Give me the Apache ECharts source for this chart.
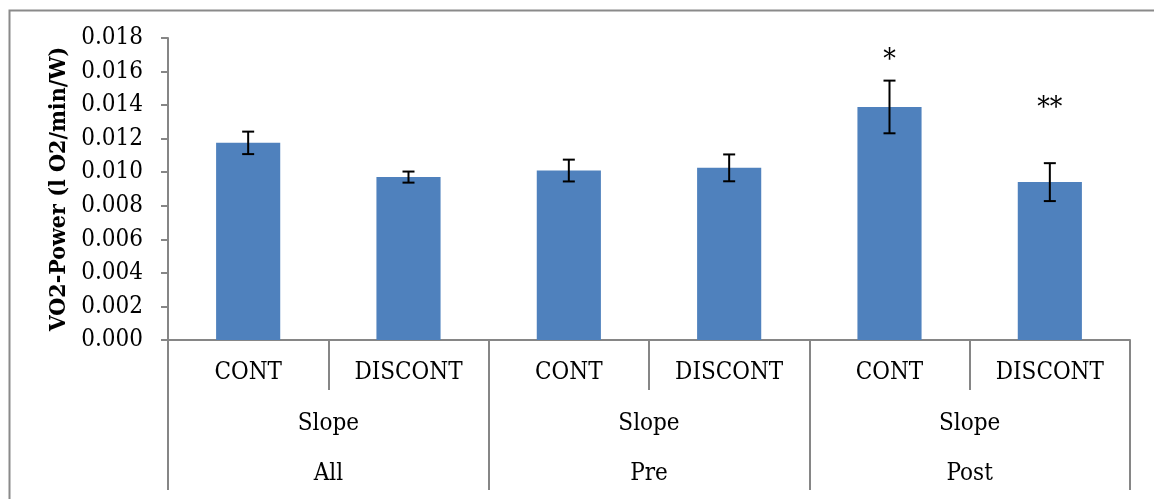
<!DOCTYPE html>
<html>
<head>
<meta charset="utf-8">
<script src="https://cdn.jsdelivr.net/npm/echarts@6/dist/echarts.min.js"></script>
<style>html,body{margin:0;padding:0;background:#fff}#c{width:1154px;height:499px}</style>
</head>
<body>
<div id="c"></div>
<script>
const conditions = ['CONT', 'DISCONT', 'CONT', 'DISCONT', 'CONT', 'DISCONT'];
const measures = ['Slope', 'Slope', 'Slope'];
const phases = ['All', 'Pre', 'Post'];
const values = [0.01175, 0.00971, 0.01010, 0.01026, 0.01389, 0.00941];
const errors = [0.00067, 0.00033, 0.00065, 0.00080, 0.00157, 0.00113];
const annotations = ['', '', '', '', '*', '**'];
const yTicks = { min: 0, max: 0.018, interval: 0.002 };

const annotationGap = [0, 0, 0, 0, 20, 54];
const FONT = '"DejaVu Serif Condensed", "DejaVu Serif", serif';
const AX = '#868686';

const chart = echarts.init(document.getElementById('c'), null, { renderer: 'canvas' });
chart.setOption({
  animation: false,
  backgroundColor: '#fff',
  graphic: [{
    type: 'rect', left: 7, top: 8, shape: { x: 0, y: 0, width: 1300, height: 700 },
    style: { fill: 'none', stroke: '#8a8a8a', lineWidth: 2 }, silent: true, z: -10
  }],
  grid: { left: 168, right: 24, top: 38, bottom: 159, containLabel: false },
  xAxis: [
    {
      type: 'category', data: conditions, position: 'bottom',
      axisLine: { show: true, lineStyle: { color: AX, width: 2 } },
      axisTick: { show: true, length: 50, interval: 0, lineStyle: { color: AX, width: 2 } },
      axisLabel: { interval: 0, margin: 21, fontFamily: FONT, fontSize: 24, color: '#000' }
    },
    {
      type: 'category', data: measures, position: 'bottom', gridIndex: 0,
      axisLine: { show: false },
      axisTick: { show: true, length: 150, interval: 0, lineStyle: { color: AX, width: 2 } },
      axisLabel: { interval: 0, margin: 72, fontFamily: FONT, fontSize: 24, color: '#000' }
    },
    {
      type: 'category', data: phases, position: 'bottom', gridIndex: 0,
      axisLine: { show: false },
      axisTick: { show: false },
      axisLabel: { interval: 0, margin: 122, fontFamily: FONT, fontSize: 24, color: '#000' }
    }
  ],
  yAxis: {
    type: 'value', min: yTicks.min, max: yTicks.max, interval: yTicks.interval,
    name: 'VO2-Power (l O2/min/W)', nameLocation: 'middle', nameGap: 90,
    nameTextStyle: { fontFamily: FONT, fontSize: 23, fontWeight: 'bold', color: '#000' },
    axisLine: { show: true, lineStyle: { color: AX, width: 2 } },
    axisTick: { show: true, length: 7, inside: false, lineStyle: { color: AX, width: 2 } },
    splitLine: { show: false },
    axisLabel: { margin: 25, fontFamily: FONT, fontSize: 24, color: '#000',
      formatter: v => v.toFixed(3) }
  },
  series: [
    {
      type: 'bar', xAxisIndex: 0, data: values, barWidth: '40%',
      itemStyle: { color: '#4F81BD' }
    },
    {
      type: 'custom', xAxisIndex: 0, z: 5,
      data: values.map((v, i) => [i, v - errors[i], v + errors[i]]),
      renderItem: function (params, api) {
        const i = api.value(0);
        const lo = api.coord([i, api.value(1)]);
        const hi = api.coord([i, api.value(2)]);
        const hw = 6;
        const style = { stroke: '#000', lineWidth: 2 };
        const children = [
          { type: 'line', shape: { x1: lo[0], y1: lo[1], x2: hi[0], y2: hi[1] }, style },
          { type: 'line', shape: { x1: lo[0] - hw, y1: lo[1], x2: lo[0] + hw, y2: lo[1] }, style },
          { type: 'line', shape: { x1: hi[0] - hw, y1: hi[1], x2: hi[0] + hw, y2: hi[1] }, style }
        ];
        if (annotations[i]) {
          children.push({
            type: 'text',
            style: { x: hi[0], y: hi[1] - annotationGap[i], text: annotations[i],
              textAlign: 'center', textVerticalAlign: 'middle',
              font: '28px "DejaVu Serif Condensed", "DejaVu Serif", serif', fill: '#000' }
          });
        }
        return { type: 'group', children };
      }
    }
  ]
});
</script>
</body>
</html>
